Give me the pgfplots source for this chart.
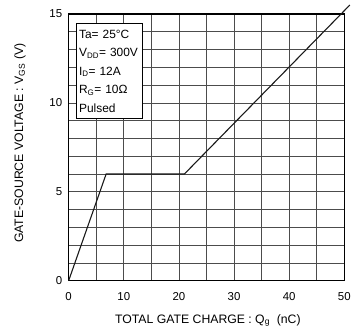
\documentclass[border=0pt]{standalone}
\usepackage{fontspec}
\setmainfont{Liberation Sans}
\usepackage{pgfplots}
\pgfplotsset{compat=1.18}
\begin{document}
\begin{tikzpicture}
\begin{axis}[
  scale only axis, width=277pt, height=268pt,
  xmin=0, xmax=50, ymin=0, ymax=15,
  xtick={0,10,...,50}, ytick={0,5,10,15},
  minor xtick={5,15,...,45},
  minor ytick={1,2,3,4,6,7,8,9,11,12,13,14},
  grid=both,
  major grid style={draw=black!70, line width=0.6pt},
  minor grid style={draw=black!70, line width=0.6pt},
  tick style={draw=none},
  axis line style={line width=1.4pt},
  clip=false,
  tick label style={font=\fontsize{11.5}{13}\selectfont},
  label style={font=\fontsize{12.3}{14}\selectfont},
  /pgf/number format/assume math mode=true,
  xlabel={TOTAL GATE CHARGE : Q\textsubscript{g}\ \ (nC)},
  ylabel={GATE-SOURCE VOLTAGE : V\textsubscript{GS} (V)},
  xlabel style={at={(axis description cs:0.505,-0.149)}, anchor=center},
  ylabel style={at={(axis description cs:-0.177,0.515)}, anchor=center},
  xticklabel style={yshift=-8pt},
  yticklabel style={xshift=-3pt},
]
\addplot[black!90, line width=1.1pt] coordinates {(0,0) (6.8,6) (21,6) (51,15.5)};
\node[draw=black, line width=1pt, fill=white, anchor=north west, align=left,
      inner xsep=3pt, inner ysep=0pt, font=\fontsize{12}{18.5}\selectfont,
      text width=61pt, minimum height=96pt]
  at (axis cs:1.26,14.5)
  {Ta= 25°C\\ V\textsubscript{DD}= 300V\\ I\textsubscript{D}= 12A\\ R\textsubscript{G}= 10Ω\\ Pulsed};
\end{axis}
\path (current axis.south west) ++(-69pt,-55pt);
\path (current axis.north east) ++(8pt,14pt);
\end{tikzpicture}
\end{document}
